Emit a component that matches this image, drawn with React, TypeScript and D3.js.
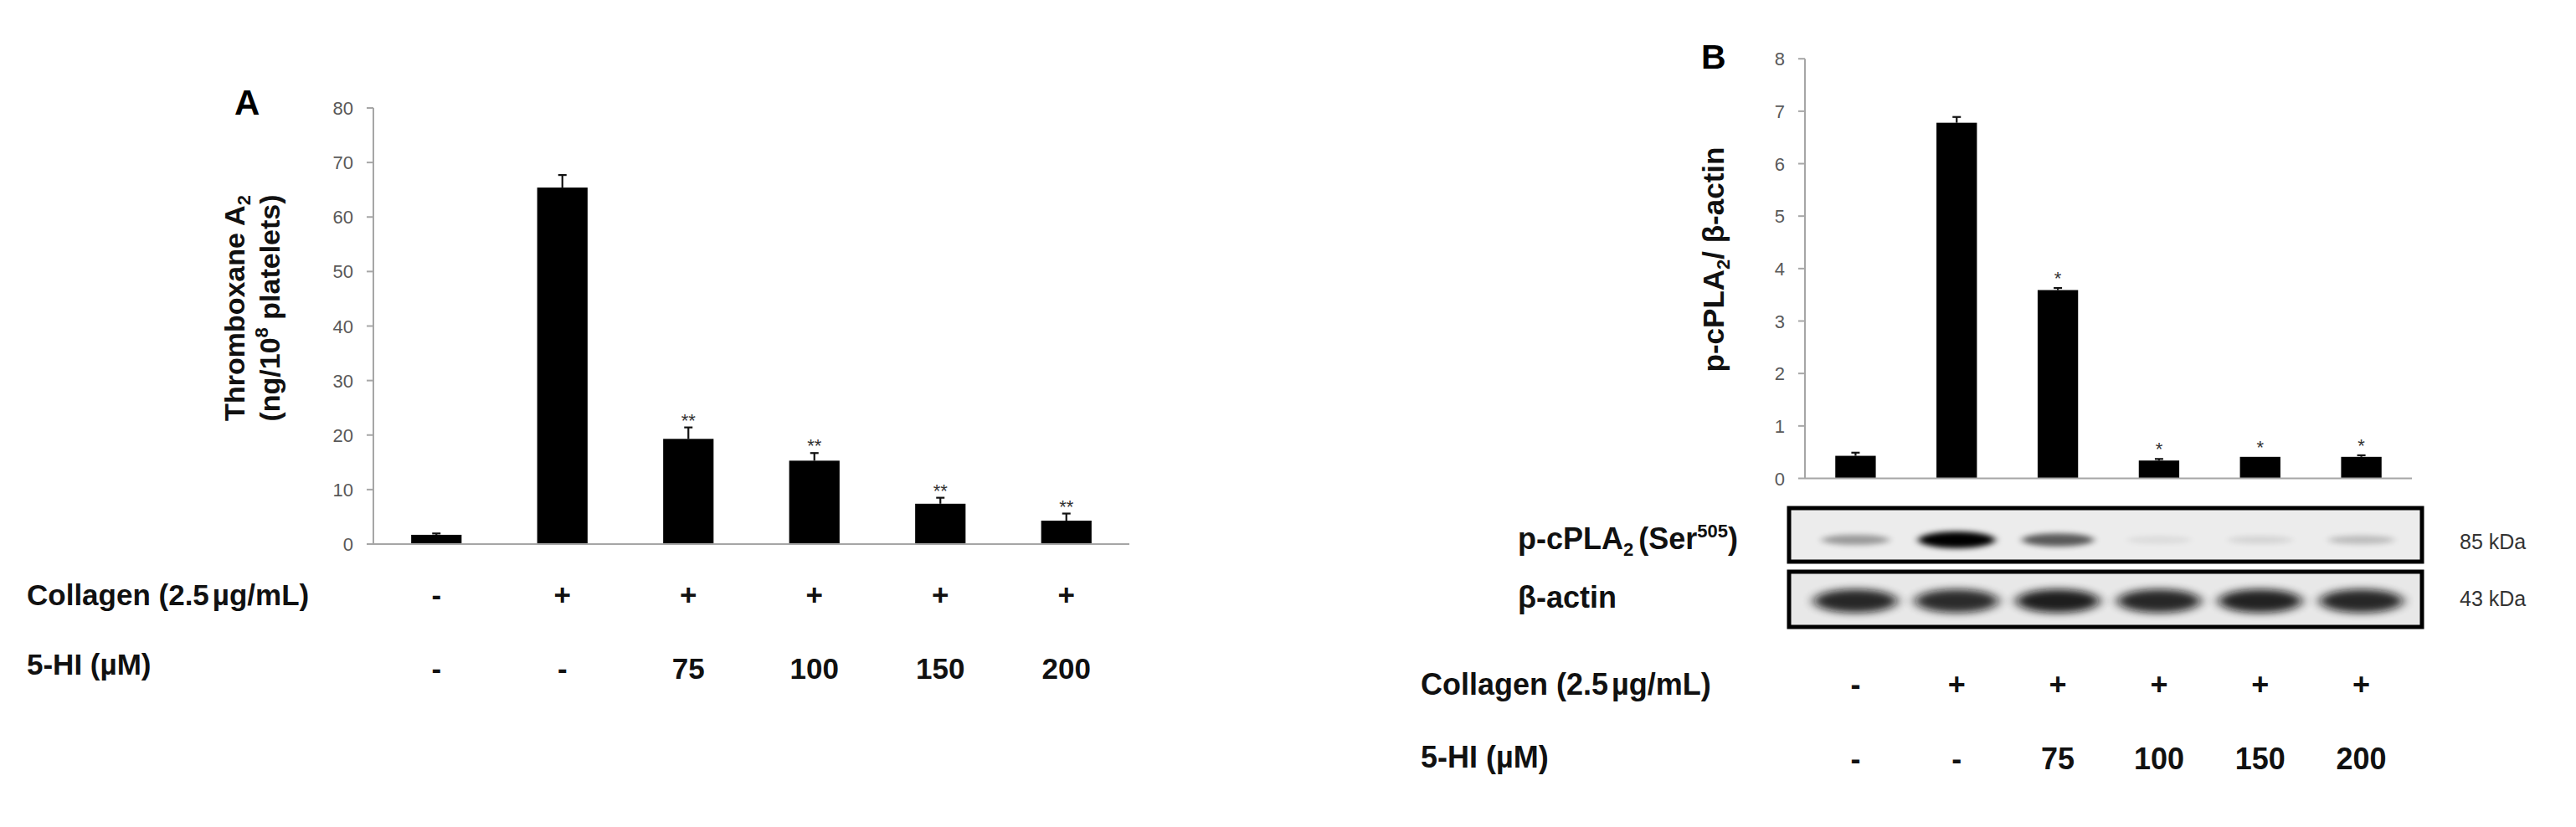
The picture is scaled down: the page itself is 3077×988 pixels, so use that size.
import React from "react";
import * as d3 from "d3";

// ---------- data ----------
const groups = ["g1", "g2", "g3", "g4", "g5", "g6"];
const collagenRow = ["-", "+", "+", "+", "+", "+"];
const hiRow = ["-", "-", "75", "100", "150", "200"];

// Panel A: Thromboxane A2 (ng/10^8 platelets)
const txValues = [1.7, 65.4, 19.3, 15.3, 7.4, 4.3];
const txErrors = [0.25, 2.3, 2.1, 1.4, 1.1, 1.3];
const txStars = ["", "", "**", "**", "**", "**"];
const txTicks = [0, 10, 20, 30, 40, 50, 60, 70, 80];

// Panel B: p-cPLA2 / beta-actin
const pValues = [0.43, 6.78, 3.59, 0.34, 0.41, 0.41];
const pErrors = [0.06, 0.11, 0.04, 0.03, 0.0, 0.03];
const pStars = ["", "", "*", "*", "*", "*"];
const pTicks = [0, 1, 2, 3, 4, 5, 6, 7, 8];

// Western blot band intensities (relative)
const pcplaBand = [0.35, 1.0, 0.62, 0.07, 0.1, 0.2];
const actinBand = [0.88, 0.86, 0.92, 0.88, 0.9, 0.88];

const FONT = "'Liberation Sans', Arial, Helvetica, sans-serif";
const AXIS = "#a6a6a6";
const TICKTXT = "#595959";

function BarPanel(props: {
  x0: number; x1: number; y0: number; y1: number; max: number;
  values: number[]; errors: number[]; stars: string[]; ticks: number[];
  starOffset: number;
}) {
  const { x0, x1, y0, y1, max, values, errors, stars, ticks, starOffset } = props;
  const x = d3.scaleBand<string>().domain(groups).range([x0, x1]).paddingInner(0.6).paddingOuter(0.3);
  const y = d3.scaleLinear().domain([0, max]).range([y0, y1]);
  const bw = x.bandwidth();
  return (
    <g>
      {ticks.map((t) => (
        <g key={t}>
          <line x1={x0 - 8} x2={x0} y1={y(t)} y2={y(t)} stroke={AXIS} strokeWidth={2} />
          <text x={x0 - 24} y={y(t) + 8} textAnchor="end" fontSize={22} fill={TICKTXT} fontFamily={FONT}>{t}</text>
        </g>
      ))}
      <line x1={x0} x2={x0} y1={y(max)} y2={y0} stroke={AXIS} strokeWidth={2} />
      {groups.map((g, i) => {
        const cx = (x(g) as number) + bw / 2;
        const top = y(values[i] + errors[i]);
        return (
          <g key={g}>
            <rect x={x(g)} y={y(values[i])} width={bw} height={y0 - y(values[i])} fill="#000" />
            {errors[i] > 0 && (
              <g stroke="#111" strokeWidth={2.2}>
                <line x1={cx} x2={cx} y1={y(values[i])} y2={top} />
                <line x1={cx - 5} x2={cx + 5} y1={top} y2={top} />
              </g>
            )}
            {stars[i] && (
              <text x={cx} y={top - starOffset} textAnchor="middle" fontSize={22} fill="#333" fontFamily={FONT}>{stars[i]}</text>
            )}
          </g>
        );
      })}
      <line x1={x0} x2={x1} y1={y0} y2={y0} stroke={AXIS} strokeWidth={2} />
    </g>
  );
}

function Rows(props: { x0: number; x1: number; labelX: number; fs: number; r1: number; r2: number; l2: number }) {
  const { x0, x1, labelX, fs, r1, r2, l2 } = props;
  const x = d3.scaleBand<string>().domain(groups).range([x0, x1]).paddingInner(0.6).paddingOuter(0.3);
  const bw = x.bandwidth();
  return (
    <g fontFamily={FONT} fontWeight="bold" fontSize={fs} fill="#111">
      <text x={labelX} y={r1}>Collagen (2.5<tspan dx={4}>µg/mL)</tspan></text>
      <text x={labelX} y={l2}>5-HI (µM)</text>
      {groups.map((g, i) => (
        <g key={g}>
          <text x={(x(g) as number) + bw / 2} y={r1} textAnchor="middle">{collagenRow[i]}</text>
          <text x={(x(g) as number) + bw / 2} y={r2} textAnchor="middle">{hiRow[i]}</text>
        </g>
      ))}
    </g>
  );
}

function Blot() {
  const x = d3.scaleBand<string>().domain(groups).range([2156, 2881]).paddingInner(0.6).paddingOuter(0.3);
  const bw = x.bandwidth();
  return (
    <g>
      <defs>
        <filter id="blur1" x="-50%" y="-100%" width="200%" height="300%">
          <feGaussianBlur stdDeviation="5 3" />
        </filter>
        <filter id="blur2" x="-50%" y="-100%" width="200%" height="300%">
          <feGaussianBlur stdDeviation="7 5" />
        </filter>
      </defs>
      <rect x={2137} y={607} width={756} height={64} fill="#ececec" stroke="#000" strokeWidth={5} />
      <rect x={2137} y={683} width={756} height={66} fill="#e8e8e8" stroke="#000" strokeWidth={5} />
      {groups.map((g, i) => {
        const cx = (x(g) as number) + bw / 2;
        return (
          <g key={g}>
            <ellipse cx={cx} cy={645} rx={38 + 8 * pcplaBand[i]} ry={4 + 6 * pcplaBand[i]} fill="#000" opacity={pcplaBand[i]} filter="url(#blur1)" />
            <ellipse cx={cx} cy={718} rx={50} ry={14} fill="#111" opacity={actinBand[i]} filter="url(#blur2)" />
          </g>
        );
      })}
      <text x={2938} y={656} fontSize={25} fill="#333" fontFamily={FONT}>85 kDa</text>
      <text x={2938} y={724} fontSize={25} fill="#333" fontFamily={FONT}>43 kDa</text>
      <g fontFamily={FONT} fontWeight="bold" fontSize={36} fill="#111">
        <text x={1813} y={656}>p-cPLA<tspan fontSize={22} dy={8}>2</tspan><tspan dy={-8} dx={6}>(Ser</tspan><tspan fontSize={22} dy={-14}>505</tspan><tspan dy={14}>)</tspan></text>
        <text x={1813} y={726}>β-actin</text>
      </g>
    </g>
  );
}

export default function App() {
  return (
    <div style={{ position: "absolute", left: 0, top: 0 }}>
      <svg width={3077} height={988} viewBox="0 0 3077 988" style={{ display: "block", background: "#fff" }}>
        <rect x={0} y={0} width={3077} height={988} fill="#fff" />
        {/* Panel A */}
        <text x={280} y={137} fontSize={42} fontWeight="bold" fontFamily={FONT} fill="#000">A</text>
        <g fontFamily={FONT} fontWeight="bold" fontSize={34} fill="#111">
          <text transform="translate(292,368) rotate(-90)" textAnchor="middle">Thromboxane A<tspan fontSize={22} dy={7}>2</tspan></text>
          <text transform="translate(334,368) rotate(-90)" textAnchor="middle">(ng/10<tspan fontSize={22} dy={-14}>8</tspan><tspan dy={14}> platelets)</tspan></text>
        </g>
        <BarPanel x0={446} x1={1349} y0={650} y1={129} max={80} values={txValues} errors={txErrors} stars={txStars} ticks={txTicks} starOffset={1} />
        <Rows x0={446} x1={1349} labelX={32} fs={35} r1={723} r2={811} l2={806} />

        {/* Panel B */}
        <text x={2032} y={82} fontSize={41} fontWeight="bold" fontFamily={FONT} fill="#000">B</text>
        <g fontFamily={FONT} fontWeight="bold" fontSize={35} fill="#111">
          <text transform="translate(2059,310) rotate(-90)" textAnchor="middle">p-cPLA<tspan fontSize={22} dy={7}>2</tspan><tspan dy={-7}>/ β-actin</tspan></text>
        </g>
        <BarPanel x0={2156} x1={2881} y0={571.5} y1={70.2} max={8} values={pValues} errors={pErrors} stars={pStars} ticks={pTicks} starOffset={4} />
        <Blot />
        <Rows x0={2156} x1={2881} labelX={1697} fs={36} r1={830} r2={919} l2={917} />
      </svg>
    </div>
  );
}
